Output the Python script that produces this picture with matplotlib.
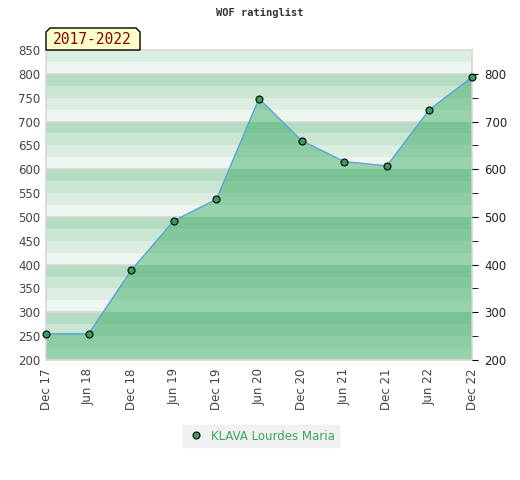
import matplotlib
matplotlib.use("Agg")
import matplotlib.pyplot as plt
from matplotlib.patches import Polygon
from matplotlib.lines import Line2D

# data
periods = ["Dec 17", "Jun 18", "Dec 18", "Jun 19", "Dec 19", "Jun 20",
           "Dec 20", "Jun 21", "Dec 21", "Jun 22", "Dec 22"]
rating = [255, 255, 388, 492, 537, 748, 660, 616, 607, 725, 793]
player = "KLAVA Lourdes Maria"
span_label = "2017-2022"

ymin, ymax = 200, 850
bg_cols = ["#b3dcc2", "#c9e6d2", "#dcede2", "#eef6f0"]    # per 25 units, top-down in each 100
fill_cols = ["#78c495", "#82c89c", "#8dcda4", "#98d2ad"]

fig = plt.figure(figsize=(5.2, 4.8), dpi=100)
ax = fig.add_axes([46 / 520, 120 / 480, 426 / 520, 310 / 480])
x = list(range(len(rating)))
ax.set_xlim(0, len(rating) - 1)
ax.set_ylim(ymin, ymax)

# striped background
for top in range(900, ymin, -25):
    k = ((900 - top) // 25) % 4
    ax.axhspan(top - 25, top, color=bg_cols[k], lw=0, zorder=0)
for yy in range(300, 900, 100):
    ax.axhline(yy, color="#d5d5d5", lw=1.2, zorder=0.5)

# area under the line, striped darker
clip = Polygon(list(zip([0] + x + [x[-1]], [ymin] + rating + [ymin])),
               closed=True, transform=ax.transData, facecolor="none", edgecolor="none")
ax.add_patch(clip)
for top in range(900, ymin, -25):
    k = ((900 - top) // 25) % 4
    sp = ax.axhspan(top - 25, top, color=fill_cols[k], lw=0, zorder=1)
    sp.set_clip_path(clip)
ax.plot([0, 0], [ymin, rating[0]], color="#3aa65e", lw=1.2, zorder=2)
ax.plot([x[-1], x[-1]], [ymin, rating[-1]], color="#3aa65e", lw=1.2, zorder=2)

ax.plot(x, rating, color="#5ba3dc", lw=1.0, zorder=3)
ax.plot(x, rating, "o", ms=5, mfc="#3a9d5d", mec="black", mew=0.8, zorder=4, clip_on=False)

for s in ["top", "left", "bottom", "right"]:
    ax.spines[s].set_color("#d8d8d8")
    ax.spines[s].set_linewidth(1.2)

ax.set_yticks(range(200, 851, 50))
ax.tick_params(axis="y", length=0, labelsize=8.5, labelcolor="#444444", pad=4)
ax.set_xticks(x)
ax.set_xticklabels(periods, rotation=90)
ax.tick_params(axis="x", length=0, labelsize=8.5, labelcolor="#444444", pad=6)

ax2 = ax.twinx()
ax2.set_ylim(ymin, ymax)
ax2.set_yticks(range(200, 801, 100))
ax2.set_yticks(range(250, 801, 100), minor=True)
ax2.tick_params(axis="y", which="both", length=4, direction="out", labelsize=8.5,
                labelcolor="#222222", pad=5)
for s in ax2.spines.values():
    s.set_visible(False)

fig.text(0.5, 1 - 13 / 480, "WOF ratinglist", ha="center", va="center",
         family="DejaVu Sans Mono", weight="bold", fontsize=7.5, color="#333333")

# period tag with clipped top corners
px = [46, 46, 50, 136, 140, 140]
py = [50, 32, 28, 28, 32, 50]
tag = Polygon([(a / 520, 1 - b / 480) for a, b in zip(px, py)], closed=True,
              transform=fig.transFigure, facecolor="#ffffcc", edgecolor="black", lw=1)
fig.patches.append(tag)
fig.text(92 / 520, 1 - 40 / 480, span_label, ha="center", va="center",
         family="DejaVu Sans Mono", fontsize=10.5, color="#8b0000")

h = Line2D([], [], marker="o", ls="none", ms=5, mfc="#3a9d5d", mec="black", mew=0.8)
leg = fig.legend([h], [player], loc="center", bbox_to_anchor=(261 / 520, 1 - 436 / 480),
                 frameon=True, fancybox=False, fontsize=8.5, handletextpad=0.5,
                 borderpad=0.35, handlelength=1.5)
leg.get_frame().set_facecolor("#eeeeee")
leg.get_frame().set_edgecolor("#eeeeee")
for t in leg.get_texts():
    t.set_color("#3aa65e")

fig.savefig("out.png", dpi=100)
